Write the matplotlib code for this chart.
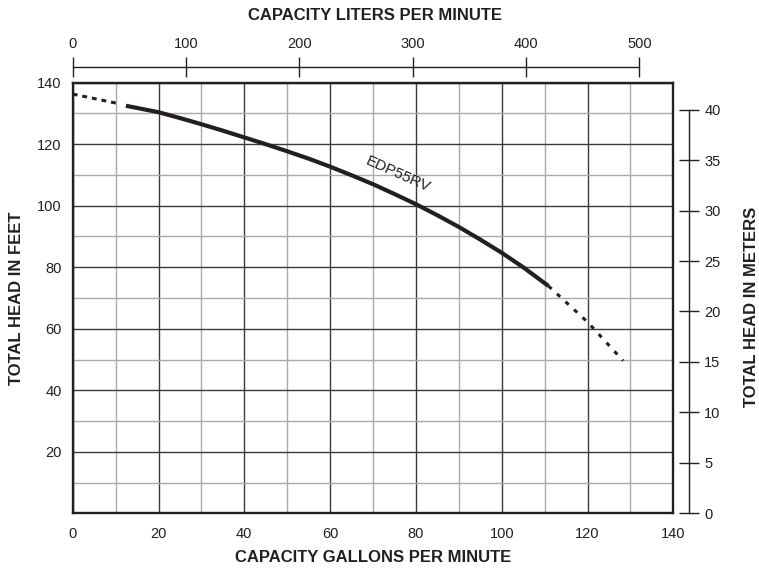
import matplotlib
matplotlib.use("Agg")
import matplotlib.pyplot as plt
from matplotlib.ticker import MultipleLocator

plt.rcParams['font.family'] = ['Liberation Sans', 'DejaVu Sans']

INK = '#231f20'

# pump curve (gallons per minute vs feet of head)
curva_gpm = [0, 11, 12.4, 20, 25, 30, 35, 40, 45, 50, 55, 60, 65, 70, 75, 80,
             85, 90, 95, 100, 105, 110.9, 120, 128.3]
curva_ft = [136.3, 133.1, 132.5, 130.4, 128.5, 126.5, 124.4, 122.2, 120.0, 117.7, 115.3, 112.7,
            109.9, 107.0, 103.8, 100.5, 96.9, 93.1, 89.0, 84.7, 80.0, 73.9, 62.2, 49.6]
INI_SOLIDO = 2   # first point of the solid part
FIN_SOLIDO = 21  # last point of the solid part

gpm_ticks = [0, 20, 40, 60, 80, 100, 120, 140]
ft_ticks = [20, 40, 60, 80, 100, 120, 140]
lpm_ticks = [0, 100, 200, 300, 400, 500]
m_ticks = [0, 5, 10, 15, 20, 25, 30, 35, 40]

LPM_A_GPM = 0.264172
M_A_FT = 3.28084

fig = plt.figure(figsize=(7.59, 5.75), dpi=100)
ax = fig.add_axes([0.0958, 0.1073, 0.7913, 0.7489])
ax.set_xlim(0, 140)
ax.set_ylim(0, 140)
ax.set_xticks(gpm_ticks)
ax.set_yticks(ft_ticks)
ax.xaxis.set_minor_locator(MultipleLocator(10))
ax.yaxis.set_minor_locator(MultipleLocator(10))
ax.set_axisbelow(True)
ax.grid(which='major', color='#3a3a3a', lw=1.0)
ax.grid(which='minor', color='#aaaaaa', lw=1.0)
ax.tick_params(which='both', length=0, labelsize=10.5, colors=INK)
ax.tick_params(axis='x', pad=10)
ax.tick_params(axis='y', pad=8)
for s in ax.spines.values():
    s.set_linewidth(1.7)
    s.set_color(INK)
    s.set_zorder(5)

# curve: dotted ends, solid middle
ax.plot(curva_gpm[:INI_SOLIDO], curva_ft[:INI_SOLIDO], color=INK, lw=2.2,
        dashes=(1.6, 1.6), dash_capstyle='butt', zorder=4)
ax.plot(curva_gpm[INI_SOLIDO:FIN_SOLIDO + 1], curva_ft[INI_SOLIDO:FIN_SOLIDO + 1],
        color=INK, lw=3.0, solid_capstyle='butt', solid_joinstyle='round', zorder=4)
ax.plot(curva_gpm[FIN_SOLIDO:], curva_ft[FIN_SOLIDO:], color=INK, lw=2.2,
        dashes=(1.4, 2.4), dash_capstyle='butt', zorder=4)
ax.text(75.8, 110.3, 'EDP55RV', rotation=-24, fontsize=11, color=INK,
        ha='center', va='center', rotation_mode='anchor')

# liters per minute scale on top
axt = ax.twiny()
axt.set_xlim(0, 140 / LPM_A_GPM)
axt.set_xticks(lpm_ticks)
for k, s in axt.spines.items():
    s.set_visible(k == 'top')
axt.spines['top'].set_position(('outward', 11.1))
axt.spines['top'].set_bounds(0, 500)
axt.spines['top'].set_linewidth(1.0)
axt.spines['top'].set_color(INK)
axt.tick_params(axis='x', direction='inout', length=13.7, width=1.0,
                pad=5, labelsize=10.5, colors=INK)

# meters scale on the right
axr = ax.twinx()
axr.set_ylim(0, 140 / M_A_FT)
axr.set_yticks(m_ticks)
for k, s in axr.spines.items():
    s.set_visible(k == 'right')
axr.spines['right'].set_position(('outward', 11.3))
axr.spines['right'].set_bounds(0, 40)
axr.spines['right'].set_linewidth(1.0)
axr.spines['right'].set_color(INK)
axr.tick_params(axis='y', direction='inout', length=13.9, width=1.0,
                pad=4, labelsize=10.5, colors=INK)

fig.text(375 / 759, 1 - 16 / 575, 'CAPACITY LITERS PER MINUTE', ha='center', va='center',
         fontsize=12, fontweight='bold', color=INK)
fig.text(373 / 759, 1 - 557 / 575, 'CAPACITY GALLONS PER MINUTE', ha='center', va='center',
         fontsize=12, fontweight='bold', color=INK)
fig.text(17 / 759, 1 - 298 / 575, 'TOTAL HEAD IN FEET', ha='center', va='center',
         rotation=90, fontsize=12, fontweight='bold', color=INK)
fig.text(751 / 759, 1 - 307 / 575, 'TOTAL HEAD IN METERS', ha='center', va='center',
         rotation=90, fontsize=12, fontweight='bold', color=INK)

fig.savefig('out.png', dpi=100)
